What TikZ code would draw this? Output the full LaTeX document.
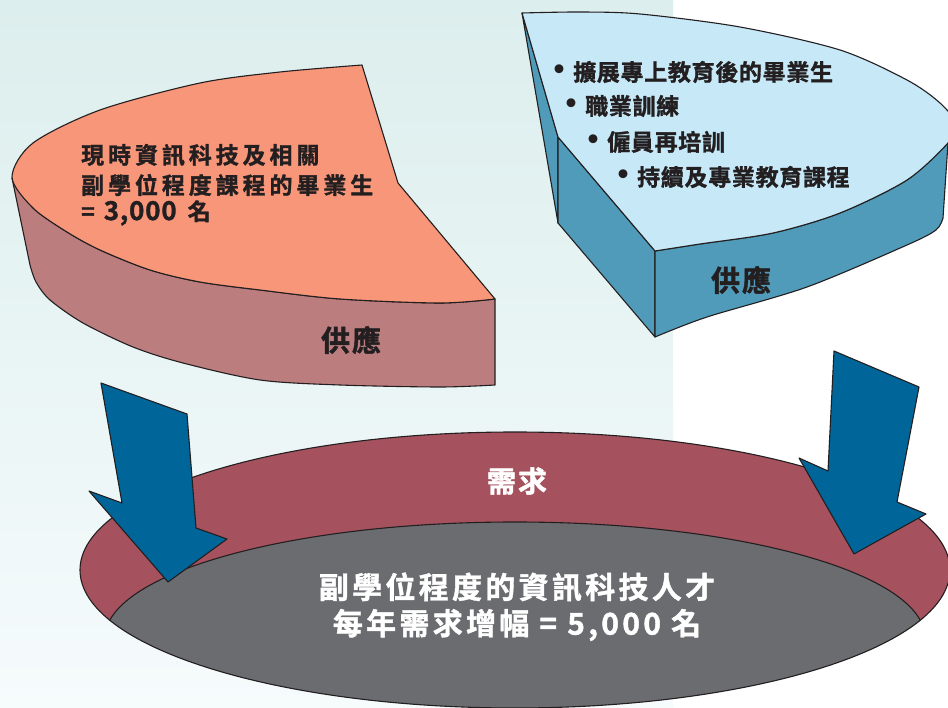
\documentclass[tikz,border=0pt]{standalone}
\usepackage{fontspec}
\newfontfamily\cjkb{Noto Sans CJK TC Bold}[LetterSpace=17,FakeBold=1.3]
\newfontfamily\cjkn{Noto Sans CJK TC Bold}[LetterSpace=3,FakeBold=1.3]
\newfontfamily\cjkc{Noto Sans CJK TC Bold}[LetterSpace=7,FakeBold=1.5]
\newfontfamily\cjkd{Noto Sans CJK TC Bold}[LetterSpace=11,FakeBold=1.3]
\newfontfamily\dejavu{DejaVu Sans}
\definecolor{inkc}{RGB}{35,31,32}
\definecolor{bgtop}{RGB}{220,238,237}
\definecolor{bgbot}{RGB}{246,251,252}
\definecolor{salmontop}{RGB}{247,150,121}
\definecolor{salmonside}{RGB}{188,125,127}
\definecolor{bluetop}{RGB}{198,232,247}
\definecolor{blueside}{RGB}{80,155,186}
\definecolor{ringc}{RGB}{165,82,94}
\definecolor{greyc}{RGB}{107,108,112}
\definecolor{arrowc}{RGB}{0,101,153}
\begin{document}
\begin{tikzpicture}[x=1pt,y=-1pt,line join=round,
  outl/.style={draw=inkc,line width=1.1pt},
  arrowst/.style={outl,fill=arrowc},
  darktxt/.style={text=inkc,font=\cjkb\fontsize{23}{27}\selectfont,inner sep=0pt,anchor=west},
  listtxt/.style={text=inkc,font=\cjkn\fontsize{23}{27}\selectfont,inner sep=0pt,anchor=west},
  sidetxt/.style={text=inkc,font=\cjkc\fontsize{29}{33}\selectfont,inner sep=0pt},
  whitetxt/.style={text=white,font=\cjkd\fontsize{30}{34}\selectfont,inner sep=0pt},
  ringtxt/.style={text=white,font=\cjkc\fontsize{29}{33}\selectfont,inner sep=0pt},
  bulletdot/.style={text=inkc,font=\dejavu\bfseries\fontsize{25}{25}\selectfont,inner sep=0pt}]
\path[clip] (0,0) rectangle (948,708);
% background
\fill[white] (0,0) rectangle (948,708);
\shade[top color=bgtop,bottom color=bgbot] (0,0) rectangle (673,708);

% ---- salmon pie (left) ----
\filldraw[outl,fill=salmonside] (12,178) -- plot[smooth] coordinates {(12,178) (33,208) (67,232) (100,250) (150,270) (200,282) (260,290) (340,299) (440,303) (495,299)}
  -- (495,385) -- plot[smooth] coordinates {(495,385) (440,387) (340,385) (260,380) (183,363) (133,347) (83,323) (50,300) (36,282) (30,265)} -- cycle;
\filldraw[outl,fill=salmontop] (495,299) -- (398,183) -- (362,65) -- plot[smooth] coordinates {(362,65) (280,72) (200,83) (100,110) (33,143) (12,177) (33,208) (67,232) (100,250) (150,270) (200,282) (260,290) (340,299) (440,303) (495,299)} -- cycle;

% ---- blue pie (right) ----
\filldraw[outl,fill=blueside] (522,13) -- (558,137) -- (558,223) -- cycle;
\filldraw[outl,fill=blueside] (558,137) -- (655,251) -- (655,337) -- (558,223) -- cycle;
\filldraw[outl,fill=blueside] (655,251) -- plot[smooth] coordinates {(655,251) (700,244) (773,233) (840,213) (907,180) (948,143)}
  -- (943,218) -- plot[smooth] coordinates {(943,218) (936,230) (907,245) (807,287) (707,317) (655,337)} -- cycle;
\filldraw[outl,fill=bluetop] (655,251) -- (558,137) -- (522,13) -- plot[smooth] coordinates {(522,13) (580,12) (640,14) (740,27) (840,50) (907,80) (940,103) (957,125) (948,143) (907,180) (840,213) (773,233) (700,244) (655,251)} -- cycle;

% ---- demand ellipse ----
\fill[ringc] (515,570) ellipse [x radius=435,y radius=138];
\begin{scope}
  \clip (515,570) ellipse [x radius=435,y radius=138];
  \filldraw[outl,fill=greyc] (515,638) ellipse [x radius=410,y radius=116];
\end{scope}
\draw[outl] (515,570) ellipse [x radius=435,y radius=138];

% ---- arrows ----
\filldraw[arrowst] (101,383) -- (187,414) -- (196,528) -- (227,539) -- (168,582) -- (89,491) -- (122,503) -- cycle;
\filldraw[arrowst] (834,351) -- (919,387) -- (897,502) -- (926,514) -- (854,554) -- (799,458) -- (828,471) -- cycle;

% ---- texts ----
\node[darktxt] (s1) at (81,155) {現時資訊科技及相關};
\node[darktxt] (s2) at (81,185) {副學位程度課程的畢業生};
\node[listtxt] (s3) at (81,213) {=\hspace{9pt}{\fontsize{26}{27}\selectfont 3,000}\hspace{11pt}名};
\node[sidetxt] (sup1) at (351,340) {供應};

\node[bulletdot] (b1) at (559,72) {•};
\node[bulletdot] (b2) at (571,106) {•};
\node[bulletdot] (b3) at (593,142) {•};
\node[bulletdot] (b4) at (623,177) {•};
\node[listtxt] (t1) at (573,72) {擴展專上教育後的畢業生};
\node[listtxt] (t2) at (585,106) {職業訓練};
\node[listtxt] (t3) at (607,142) {僱員再培訓};
\node[listtxt] (t4) at (637,177) {持續及專業教育課程};
\node[sidetxt] (sup2) at (741,280) {供應};

\node[ringtxt] (dem) at (517,481) {需求};
\node[whitetxt] (d1) at (517,587) {副學位程度的資訊科技人才};
\node[whitetxt] (d2) at (517,625) {每年需求增幅 = 5,000 名};
\end{tikzpicture}
\end{document}
